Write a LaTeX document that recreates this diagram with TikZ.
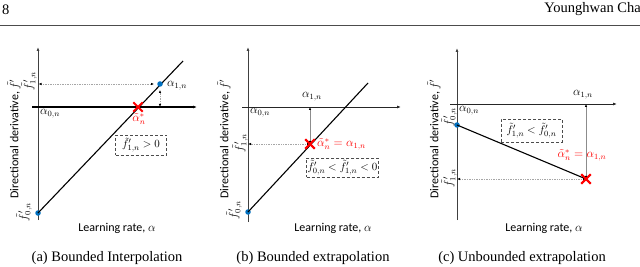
\documentclass[tikz,border=0pt]{standalone}
\usepackage{fontspec}
\setmainfont{Liberation Serif}
\newfontfamily\calib{Carlito}
\usetikzlibrary{arrows.meta,shapes.misc}
\definecolor{dotblue}{RGB}{0,112,192}
\definecolor{xred}{RGB}{255,0,0}
\begin{document}
\begin{tikzpicture}[x=1pt,y=-1pt,
  axis/.style={line width=0.8pt,black!75,-{Latex[length=4pt,width=3pt]}},
  haxis/.style={line width=0.9pt,black!85,-{Latex[length=4pt,width=3pt]}},
  fline/.style={line width=1.1pt,black},
  bdot/.style={circle,fill=dotblue,inner sep=0pt,minimum size=5.5pt},
  xmk/.style={cross out,draw=xred,line width=1.8pt,inner sep=0pt,minimum size=7.5pt},
  guide/.style={black!35,densely dotted,line width=0.7pt,{Latex[length=3pt,width=2.5pt,black]}-{Latex[length=3pt,width=2.5pt,black]}},
  guideb/.style={black!45,line width=0.6pt,{Latex[length=3pt,width=2.5pt,black]}-{Latex[length=3pt,width=2.5pt,black]}},
  ml/.style={font=\fontsize{11.5}{13}\selectfont,inner sep=1pt},
  rl/.style={font=\fontsize{11.5}{13}\selectfont,inner sep=1pt,rotate=90},
  cal/.style={font=\calib\fontsize{12}{14}\selectfont,inner sep=0pt},
  caltr/.style={font=\calib\fontsize{12}{14}\selectfont,inner sep=0pt,rotate=90},
  captxt/.style={font=\fontsize{14.5}{16}\selectfont,inner sep=0pt},
  dbox/.style={draw=black!70,densely dashed,line width=0.6pt,inner sep=1pt,font=\fontsize{11}{13}\selectfont}
]
\useasboundingbox (0,0) rectangle (640,267);
% header
\node[captxt,anchor=west] (pg) at (2,10) {8};
\node[captxt,anchor=east] (auth) at (641,9) {Younghwan Cha};
\coordinate (rl) at (0,25);
\coordinate (rr) at (640,25);
\draw[line width=0.9pt,black!70] (rl) -- (rr);

% ================= panel (a)
\coordinate (aYb) at (38,220);
\coordinate (aYt) at (38,47);
\coordinate (aXl) at (32,107);
\coordinate (aXr) at (197,107);
\coordinate (aLe) at (183,61);
\draw[axis] (aYb) -- (aYt);
\draw[haxis,line width=1.3pt,black] (aXl) -- (aXr);
\node[bdot] (aP0) at (38,213) {};
\draw[fline] (aP0.center) -- (aLe);
\node[bdot] (aP1) at (160,84) {};
\coordinate (aY1) at (38,84);
\coordinate (aX1) at (160,107);
\draw[guide,shorten <=0.5pt,shorten >=3pt] (aY1) -- (aP1);
\draw[guide,shorten <=3pt] (aP1) -- (aX1);
\node[xmk] (aX) at (138,107) {};
\node[ml,anchor=west] (aa1) at (166,86) {$\alpha_{1,n}$};
\node[ml,anchor=west] (aa0) at (39,114) {$\alpha_{0,n}$};
\node[ml,text=xred] (aas) at (139,119) {$\tilde\alpha^*_n$};
\node[rl] (af1) at (29,81) {$\tilde f'_{1,n}$};
\node[rl] (af0) at (24,212) {$\tilde f'_{0,n}$};
\node[dbox,minimum width=51pt,minimum height=20pt] (abox) at (141,145) {$\tilde f'_{1,n}>0$};
\node[caltr] (ayl) at (14,139) {Directional derivative, $\tilde f'$};
\node[cal] (axl) at (117,228) {Learning rate, $\alpha$};
\node[captxt] (acap) at (107,258) {(a) Bounded Interpolation};

% ================= panel (b)
\coordinate (bYb) at (248,222);
\coordinate (bYt) at (248,47);
\coordinate (bXl) at (242,107);
\coordinate (bXr) at (401,107);
\coordinate (bLe) at (368,83);
\draw[axis] (bYb) -- (bYt);
\draw[haxis] (bXl) -- (bXr);
\node[bdot] (bP0) at (248,212) {};
\draw[fline] (bP0.center) -- (bLe);
\node[xmk] (bX) at (310,144) {};
\coordinate (bX1) at (310,107);
\coordinate (bY1) at (248,144);
\draw[guideb] (bX1) -- (bX.center);
\draw[guide,shorten >=0pt] (bX.center) -- (bY1);
\node[xmk] at (bX) {};
\node[ml] (ba1) at (312,97) {$\alpha_{1,n}$};
\node[ml,anchor=west] (ba0) at (249,113) {$\alpha_{0,n}$};
\node[ml,text=xred,anchor=west] (bas) at (316,144) {$\tilde\alpha^*_n=\alpha_{1,n}$};
\node[rl] (bf1) at (240,143) {$\tilde f'_{1,n}$};
\node[rl] (bf0) at (234,210) {$\tilde f'_{0,n}$};
\node[dbox,minimum width=69pt,minimum height=19pt] (bbox) at (342.5,167.5) {$\tilde f'_{0,n}<\tilde f'_{1,n}<0$};
\node[caltr] (byl) at (224,139) {Directional derivative, $\tilde f'$};
\node[cal] (bxl) at (333,228) {Learning rate, $\alpha$};
\node[captxt] (bcap) at (313,258) {(b) Bounded extrapolation};

% ================= panel (c)
\coordinate (cYb) at (457,220);
\coordinate (cYt) at (457,48);
\coordinate (cXl) at (450,104);
\coordinate (cXr) at (617,104);
\draw[axis] (cYb) -- (cYt);
\draw[haxis] (cXl) -- (cXr);
\node[bdot] (cP0) at (457,125) {};
\node[xmk] (cX) at (586,179) {};
\draw[fline] (cP0.center) -- (cX.center);
\coordinate (cX1) at (586,104);
\coordinate (cY1) at (457,179);
\draw[guideb] (cX1) -- (cX.center);
\draw[guide] (cX.center) -- (cY1);
\node[xmk] at (cX) {};
\node[ml] (ca1) at (583,95) {$\alpha_{1,n}$};
\node[ml,anchor=west] (ca0) at (458,111) {$\alpha_{0,n}$};
\node[ml,text=xred] (cas) at (582,155) {$\tilde\alpha^*_n=\alpha_{1,n}$};
\node[rl] (cf0) at (449,117) {$\tilde f'_{0,n}$};
\node[rl] (cf1) at (449,178) {$\tilde f'_{1,n}$};
\node[dbox,minimum width=61pt,minimum height=23pt] (cbox) at (531.5,130.5) {$\tilde f'_{1,n}<\tilde f'_{0,n}$};
\node[caltr] (cyl) at (434,139) {Directional derivative, $\tilde f'$};
\node[cal] (cxl) at (544,228) {Learning rate, $\alpha$};
\node[captxt] (ccap) at (522,258) {(c) Unbounded extrapolation};
\end{tikzpicture}
\end{document}
